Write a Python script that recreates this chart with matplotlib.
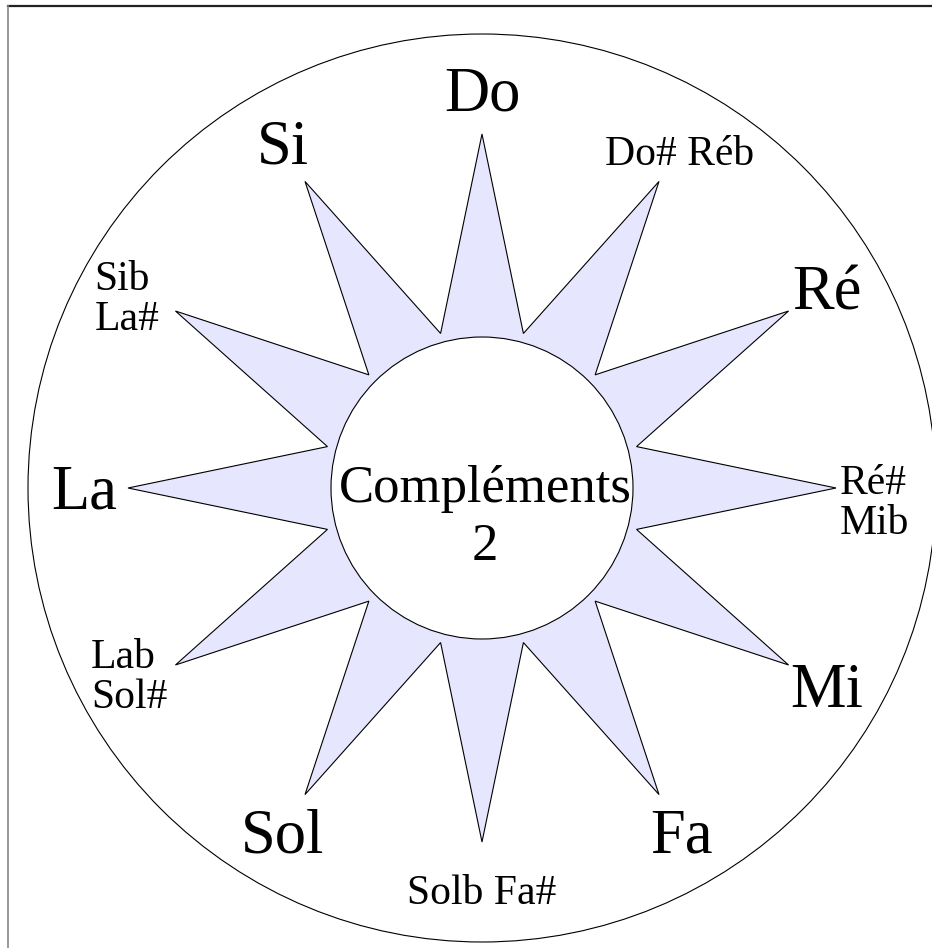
import matplotlib
import numpy as np

matplotlib.use("Agg")
import matplotlib.pyplot as plt
from matplotlib.patches import Circle, Polygon


# wheel of the 12 semitones, step 0 at the top, going clockwise
NATURAL_NOTES = ["Do", "Ré", "Mi", "Fa", "Sol", "La", "Si"]
NATURAL_STEPS = [0, 2, 4, 5, 7, 9, 11]
ALTERED_NOTES = ["Do# Réb", "Ré#\nMib", "Solb Fa#", "Lab\nSol#", "Sib\nLa#"]
ALTERED_STEPS = [1, 3, 6, 8, 10]
CENTER_TITLE = "Compléments"
CENTER_SUB = "2"
N_STEPS = 12

W, H = 932, 948
CX, CY = 482, 488
R_OUTER = 454
R_TIP = 354
R_NOTCH = 160
R_INNER = 151
R_BIG = 398
R_SMALL = 396

# hand placement tweaks for the two-line labels (pixels, x right / y down)
TWO_LINE_NUDGE = {3: (-4, 16), 8: (-10, -8), 10: (-12, 10)}

FONT = ["Liberation Serif", "DejaVu Serif"]
STAR_COLOR = "#e6e6ff"


def polar(radius: float, step: float) -> tuple[float, float]:
    angle = np.deg2rad(step * 360.0 / N_STEPS)
    return CX + radius * np.sin(angle), CY - radius * np.cos(angle)


def star_vertices() -> np.ndarray:
    pts = []
    for k in range(2 * N_STEPS):
        radius = R_TIP if k % 2 == 0 else R_NOTCH
        pts.append(polar(radius, k / 2))
    return np.array(pts)


def main() -> None:
    fig = plt.figure(figsize=(W / 100, H / 100), dpi=100)
    ax = fig.add_axes([0, 0, 1, 1])
    ax.set_xlim(0, W)
    ax.set_ylim(H, 0)
    ax.axis("off")

    # page frame (only top and left edges fall inside the picture)
    ax.plot([8, W], [6, 6], color="#222222", lw=1.6)
    ax.plot([8, 8], [6, H], color="#888888", lw=1.2)

    ax.add_patch(Circle((CX, CY), R_OUTER, facecolor="white", edgecolor="black", lw=0.8))
    ax.add_patch(Polygon(star_vertices(), closed=True, facecolor=STAR_COLOR,
                         edgecolor="black", lw=0.8))
    ax.add_patch(Circle((CX, CY), R_INNER, facecolor="white", edgecolor="black", lw=0.8))

    for name, step in zip(NATURAL_NOTES, NATURAL_STEPS):
        x, y = polar(R_BIG, step)
        ax.text(x, y + 20, name, ha="center", va="baseline", fontsize=45, family=FONT)

    for name, step in zip(ALTERED_NOTES, ALTERED_STEPS):
        x, y = polar(R_SMALL, step)
        if "\n" in name:
            dx, dy = TWO_LINE_NUDGE.get(step, (0, 0))
            ax.text(x + dx, y + dy, name, ha="center", va="center", multialignment="left",
                    linespacing=1.05, fontsize=30, family=FONT)
        else:
            ax.text(x, y + 20, name, ha="center", va="baseline", fontsize=30, family=FONT)

    ax.text(CX + 3, 502, CENTER_TITLE, ha="center", va="baseline", fontsize=38, family=FONT)
    ax.text(CX + 3, 560, CENTER_SUB, ha="center", va="baseline", fontsize=38, family=FONT)

    fig.savefig("out.png", dpi=100, facecolor="white")
    plt.close(fig)


if __name__ == "__main__":
    main()
